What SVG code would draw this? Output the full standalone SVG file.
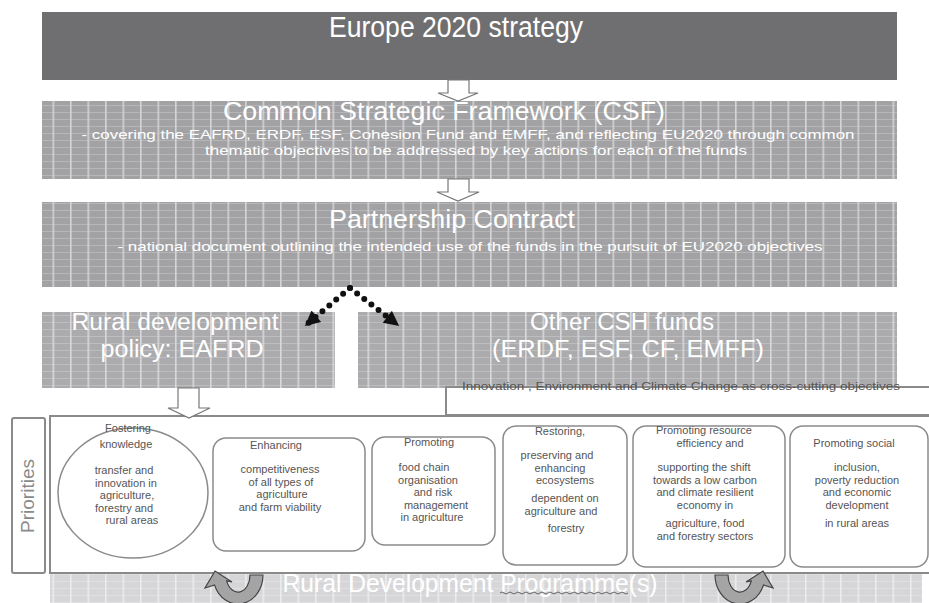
<svg xmlns="http://www.w3.org/2000/svg" width="929" height="603" viewBox="0 0 929 603">
<defs>
<pattern id="grid" width="17.5" height="7" patternUnits="userSpaceOnUse">
<rect width="17.5" height="7" fill="#a2a2a4"/>
<rect x="0" y="0" width="17.5" height="1" fill="#b6b6b8"/>
<rect x="0" y="0" width="1.6" height="7" fill="#d4d4d6"/>
</pattern>
<pattern id="grid2" width="17.5" height="7" patternUnits="userSpaceOnUse">
<rect width="17.5" height="7" fill="#ababad"/>
<rect x="0" y="0" width="17.5" height="1" fill="#bdbdbf"/>
<rect x="0" y="0" width="1.6" height="7" fill="#d8d8da"/>
</pattern>
<pattern id="grid3" width="17.5" height="7" patternUnits="userSpaceOnUse">
<rect width="17.5" height="7" fill="#d6d6d8"/>
<rect x="0" y="0" width="17.5" height="1" fill="#e0e0e2"/>
<rect x="0" y="0" width="1.6" height="7" fill="#ececee"/>
</pattern>
<marker id="head" viewBox="0 0 10 10" refX="9" refY="5" markerWidth="17" markerHeight="15" markerUnits="userSpaceOnUse" orient="auto">
<path d="M0,0 L10,5 L0,10 z" fill="#111"/>
</marker>
<path id="uarrow" d="M263,575 A25,29 0 0 1 214.5,584.9 L205,588 L215,571 L232,582 L226.7,580.8 A12,17 0 0 0 250,575 Z"/>
</defs>
<style>
.w{font-family:"Liberation Sans",Arial,sans-serif;fill:#ffffff;text-anchor:middle}
.t{font-family:"Liberation Sans",Arial,sans-serif;fill:#555;font-size:11px;text-anchor:middle}
.box{fill:#fff;stroke:#8a8a8a;stroke-width:1.5}
.frame{fill:#fff;stroke:#8a8a8a;stroke-width:2}
.hollow{fill:#fff;stroke:#777;stroke-width:1.2}
.dots{fill:none;stroke:#111;stroke-width:6;stroke-dasharray:0 9;stroke-linecap:round}
.curl{fill:#a4a4a4;stroke:#444;stroke-width:1.2}
</style>
<rect width="929" height="603" fill="#fff"/>

<g id="europe2020">
<rect x="42" y="12" width="855" height="68" fill="#6f6f71"/>
<text class="w" x="456" y="37" font-size="29" textLength="254" lengthAdjust="spacingAndGlyphs">Europe 2020 strategy</text>
</g>

<g id="csf">
<rect x="42" y="101" width="855" height="78" fill="url(#grid)"/>
<text class="w" x="444" y="120" font-size="25" textLength="442" lengthAdjust="spacingAndGlyphs">Common Strategic Framework (CSF)</text>
<text class="w" x="468" y="139" font-size="13" textLength="773" lengthAdjust="spacingAndGlyphs">- covering the EAFRD, ERDF, ESF, Cohesion Fund and EMFF, and reflecting EU2020 through common</text>
<text class="w" x="476" y="155" font-size="13" textLength="542" lengthAdjust="spacingAndGlyphs">thematic objectives to be addressed by key actions for each of the funds</text>
</g>

<g id="partnership">
<rect x="42" y="202" width="855" height="85" fill="url(#grid)"/>
<text class="w" x="452" y="228" font-size="25" textLength="246" lengthAdjust="spacingAndGlyphs">Partnership Contract</text>
<text class="w" x="470" y="251" font-size="13" textLength="705" lengthAdjust="spacingAndGlyphs">- national document outlining the intended use of the funds in the pursuit of EU2020 objectives</text>
</g>

<g id="rural-policy">
<rect x="42" y="312" width="293" height="76" fill="url(#grid2)"/>
<text class="w" x="175" y="330" font-size="23" textLength="207" lengthAdjust="spacingAndGlyphs">Rural development</text>
<text class="w" x="182" y="357" font-size="23" textLength="163" lengthAdjust="spacingAndGlyphs">policy: EAFRD</text>
</g>

<g id="other-funds">
<rect x="358" y="312" width="539" height="76" fill="url(#grid2)"/>
<text class="w" x="622" y="330" font-size="23" textLength="184" lengthAdjust="spacingAndGlyphs">Other CSH funds</text>
<text class="w" x="628" y="357" font-size="23" textLength="272" lengthAdjust="spacingAndGlyphs">(ERDF, ESF, CF, EMFF)</text>
</g>

<g id="rdp-band">
<rect x="50" y="573" width="872" height="30" fill="url(#grid3)"/>
<text class="w" x="470" y="592" font-size="26" textLength="375" lengthAdjust="spacingAndGlyphs">Rural Development Programme(s)</text>
<path d="M500,593 q2,-2 4,0 t4,0 t4,0 t4,0 t4,0 t4,0 t4,0 t4,0 t4,0 t4,0 t4,0 t4,0 t4,0 t4,0 t4,0 t4,0 t4,0 t4,0 t4,0 t4,0 t4,0 t4,0 t4,0 t4,0 t4,0 t4,0 t4,0 t4,0 t4,0 t4,0 t4,0 t4,0" fill="none" stroke="#666" stroke-width="1"/>
</g>

<g id="cross-cutting">
<rect x="446" y="387" width="490" height="28" class="frame"/>
<text x="462" y="390" font-family="'Liberation Sans',Arial,sans-serif" font-size="11" fill="#555" textLength="438" lengthAdjust="spacingAndGlyphs">Innovation , Environment and Climate Change as cross-cutting objectives</text>
</g>

<g id="priorities-label">
<rect x="12" y="418" width="33" height="155" rx="2" class="frame"/>
<text x="0" y="0" transform="translate(34,496) rotate(-90)" font-family="'Liberation Sans',Arial,sans-serif" font-size="18" fill="#8a8a8a" text-anchor="middle" textLength="74" lengthAdjust="spacingAndGlyphs">Priorities</text>
</g>

<g id="priorities">
<rect x="50" y="416" width="890" height="157" class="frame"/>
</g>

<g id="p1-knowledge">
<ellipse cx="133" cy="493" rx="75" ry="65" class="box"/>
<text class="t" x="128" y="432">Fostering</text>
<text class="t" x="126" y="448">knowledge</text>
<text class="t" x="124" y="474">transfer and</text>
<text class="t" x="126" y="486.5">innovation in</text>
<text class="t" x="127" y="499">agriculture,</text>
<text class="t" x="124" y="511.5">forestry and</text>
<text class="t" x="132" y="524">rural areas</text>
</g>

<g id="p2-competitiveness">
<rect x="213" y="438" width="152" height="113" rx="13" class="box"/>
<text class="t" x="276" y="449">Enhancing</text>
<text class="t" x="280" y="473">competitiveness</text>
<text class="t" x="281" y="485.5">of all types of</text>
<text class="t" x="282" y="498">agriculture</text>
<text class="t" x="280" y="510.5">and farm viability</text>
</g>

<g id="p3-foodchain">
<rect x="372" y="437" width="123" height="108" rx="13" class="box"/>
<text class="t" x="429" y="446">Promoting</text>
<text class="t" x="424" y="471">food chain</text>
<text class="t" x="428" y="483.5">organisation</text>
<text class="t" x="433" y="496">and risk</text>
<text class="t" x="436" y="508.5">management</text>
<text class="t" x="432" y="521">in agriculture</text>
</g>

<g id="p4-ecosystems">
<rect x="503" y="426" width="124" height="139" rx="13" class="box"/>
<text class="t" x="560" y="435">Restoring,</text>
<text class="t" x="557" y="459">preserving and</text>
<text class="t" x="560" y="471.5">enhancing</text>
<text class="t" x="565" y="484">ecosystems</text>
<text class="t" x="565" y="502">dependent  on</text>
<text class="t" x="561" y="514.5">agriculture and</text>
<text class="t" x="566" y="532">forestry</text>
</g>

<g id="p5-resource">
<rect x="633" y="426" width="152" height="141" rx="13" class="box"/>
<text class="t" x="704" y="434">Promoting resource</text>
<text class="t" x="710" y="446.5">efficiency and</text>
<text class="t" x="704" y="471">supporting the shift</text>
<text class="t" x="705" y="483.5">towards a low carbon</text>
<text class="t" x="705" y="496">and climate resilient</text>
<text class="t" x="705" y="508.5">economy in</text>
<text class="t" x="705" y="527">agriculture, food</text>
<text class="t" x="705" y="540">and forestry sectors</text>
</g>

<g id="p6-social">
<rect x="790" y="426" width="138" height="141" rx="13" class="box"/>
<text class="t" x="854" y="447">Promoting social</text>
<text class="t" x="857" y="471">inclusion,</text>
<text class="t" x="857" y="483.5">poverty reduction</text>
<text class="t" x="857" y="496">and economic</text>
<text class="t" x="857" y="508.5">development</text>
<text class="t" x="857" y="527">in rural areas</text>
</g>

<g id="connectors">
<polygon class="hollow" points="448,80 448,93 438,93 458,101 478,93 469,93 469,80"/>
<polygon class="hollow" points="448,179 448,192 437,192 458,201 479,192 469,192 469,179"/>
<polygon class="hollow" points="178,388 178,408 168,408 189,418 210,408 199,408 199,388"/>
<line class="dots" x1="350" y1="288" x2="306" y2="325" marker-end="url(#head)"/>
<line class="dots" x1="350" y1="288" x2="398" y2="325" marker-end="url(#head)"/>
<use href="#uarrow" class="curl"/>
<use href="#uarrow" class="curl" transform="translate(978,0) scale(-1,1)"/>
</g>
</svg>
